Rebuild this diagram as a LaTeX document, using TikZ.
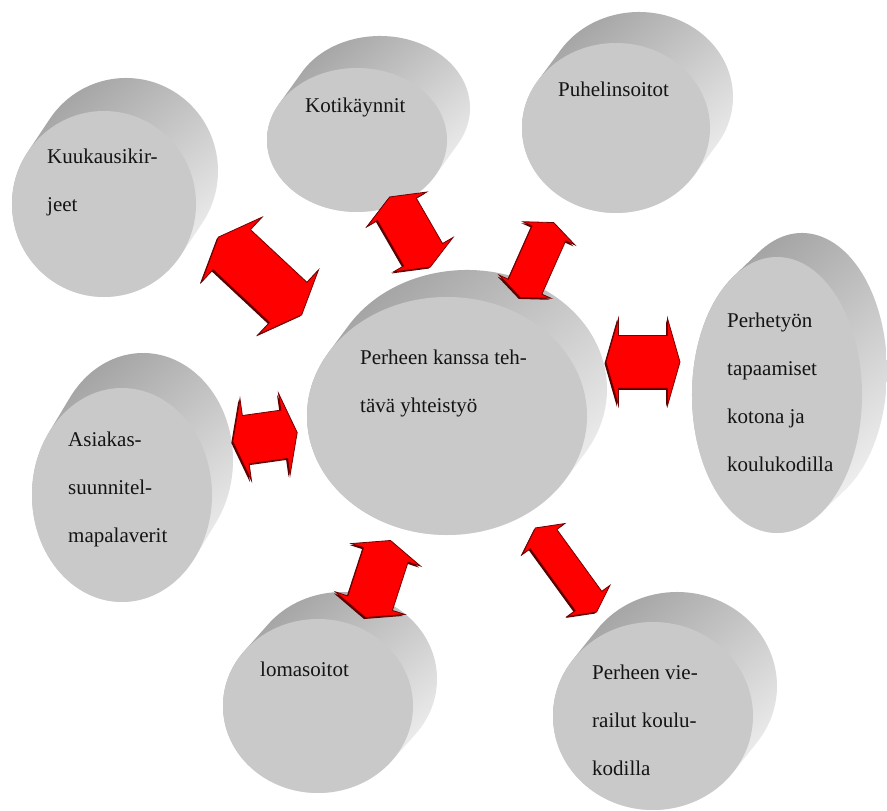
\documentclass[tikz,border=0pt]{standalone}
\usepackage{fontspec}
\setmainfont{Liberation Serif}
\usetikzlibrary{shapes.arrows, shadows}

\begin{document}
\begin{tikzpicture}[x=1pt, y=1pt,
		side/.style={top color=black!38, bottom color=black!4, shading angle=40},
		face/.style={fill=black!21},
		teksti/.style={anchor=base west, align=left, inner sep=0pt, text=black!92, font=\fontsize{21}{48}\selectfont},
		nuoli/.style={double arrow, fill=red, draw=red!45!black, line width=0.8pt, inner xsep=0pt, double arrow tip angle=135,
			general shadow={shadow xshift=-1.5pt, shadow yshift=-1.5pt, fill=red!35!black}}]

		\useasboundingbox (0, 0) rectangle (887, 811);
		\fill[white] (0, 0) rectangle (887, 811);

		\shade[side]	(126, 640) ++(-34:92 and 93) arc[start angle=-34, end angle=146, x radius=92, y radius=93] -- ++(-22, -33) arc[start angle=146, end angle=326, x radius=92, y radius=93] -- cycle;
		\fill[face]		(104, 607) ellipse [x radius=92, y radius=93];

		\shade[side]	(380, 703) ++(-30:90 and 72) arc[start angle=-30, end angle=150, x radius=90, y radius=72] -- ++(-23, -32) arc[start angle=150, end angle=330, x radius=90, y radius=72] -- cycle;
		\fill[face]		(357, 671) ellipse [x radius=90, y radius=72];

		\shade[side]	(639, 714) ++(-34:94 and 85) arc[start angle=-34, end angle=146, x radius=94, y radius=85] -- ++(-23, -31) arc[start angle=146, end angle=326, x radius=94, y radius=85] -- cycle;
		\fill[face]		(616, 683) ellipse [x radius=94, y radius=85];

		\shade[side]	(802, 440) ++(-59:85 and 138) arc[start angle=-59, end angle=121, x radius=85, y radius=138] -- ++(-25, -24) arc[start angle=121, end angle=301, x radius=85, y radius=138] -- cycle;
		\fill[face]		(777, 416) ellipse [x radius=85, y radius=138];

		\shade[side]	(467, 422) ++(-32:140 and 119) arc[start angle=-32, end angle=148, x radius=140, y radius=119] -- ++(-20, -27) arc[start angle=148, end angle=328, x radius=140, y radius=119] -- cycle;
		\fill[face]		(447, 395) ellipse [x radius=140, y radius=119];

		\shade[side]	(143, 351) ++(-35:90 and 107) arc[start angle=-35, end angle=145, x radius=90, y radius=107] -- ++(-21, -35) arc[start angle=145, end angle=325, x radius=90, y radius=107] -- cycle;
		\fill[face]		(122, 316) ellipse [x radius=90, y radius=107];

		\shade[side]	(342, 132) ++(-39:95 and 87) arc[start angle=-39, end angle=141, x radius=95, y radius=87] -- ++(-24, -27) arc[start angle=141, end angle=321, x radius=95, y radius=87] -- cycle;
		\fill[face]		(318, 105) ellipse [x radius=95, y radius=87];

		\shade[side]	(677, 125) ++(-37:100 and 94) arc[start angle=-37, end angle=143, x radius=100, y radius=94] -- ++(-24, -30) arc[start angle=143, end angle=323, x radius=100, y radius=94] -- cycle;
		\fill[face]		(653, 95) ellipse [x radius=100, y radius=94];

		\node[teksti] (kuuk)	at (47, 599)	{Kuukausikir-\\jeet};
		\node[teksti] (koti)	at (305, 698)	{Kotikäynnit};
		\node[teksti] (puhel)	at (558, 714)	{Puhelinsoitot};
		\node[teksti] (perhe)	at (727, 339)	{Perhetyön\\tapaamiset\\kotona ja\\koulukodilla};
		\node[teksti] (keski)	at (360, 398)	{Perheen kanssa teh-\\tävä yhteistyö};
		\node[teksti] (asiak)	at (68, 268)	{Asiakas-\\suunnitel-\\mapalaverit};
		\node[teksti] (loma)	at (260, 134)	{lomasoitot};
		\node[teksti] (vier)	at (592, 35)	{Perheen vie-\\railut koulu-\\kodilla};

		\node[nuoli, inner ysep=27pt, double arrow head extend=17pt, minimum height=114pt, rotate=-43] (n-kuuk) at (260, 535) {};
		\node[nuoli, inner ysep=22pt, double arrow head extend=12pt, minimum height=81pt, rotate=-60] (n-koti) at (410, 579) {};
		\node[nuoli, inner ysep=18pt, double arrow head extend=10pt, minimum height=82pt, rotate=66] (n-puhel) at (537, 551) {};
		\node[nuoli, inner ysep=26pt, double arrow head extend=17pt, minimum height=74pt, double arrow tip angle=148] (n-perhe) at (643, 449) {};
		\node[nuoli, inner ysep=24pt, double arrow head extend=17pt, minimum height=65pt, double arrow tip angle=145, rotate=8] (n-asiak) at (265, 374) {};
		\node[nuoli, inner ysep=23pt, double arrow head extend=13pt, minimum height=81pt, rotate=72] (n-loma) at (378, 232) {};
		\node[nuoli, inner ysep=16pt, double arrow head extend=10pt, minimum height=104pt, double arrow tip angle=125, rotate=-54] (n-vier) at (566, 241) {};
	\end{tikzpicture}
\end{document}
